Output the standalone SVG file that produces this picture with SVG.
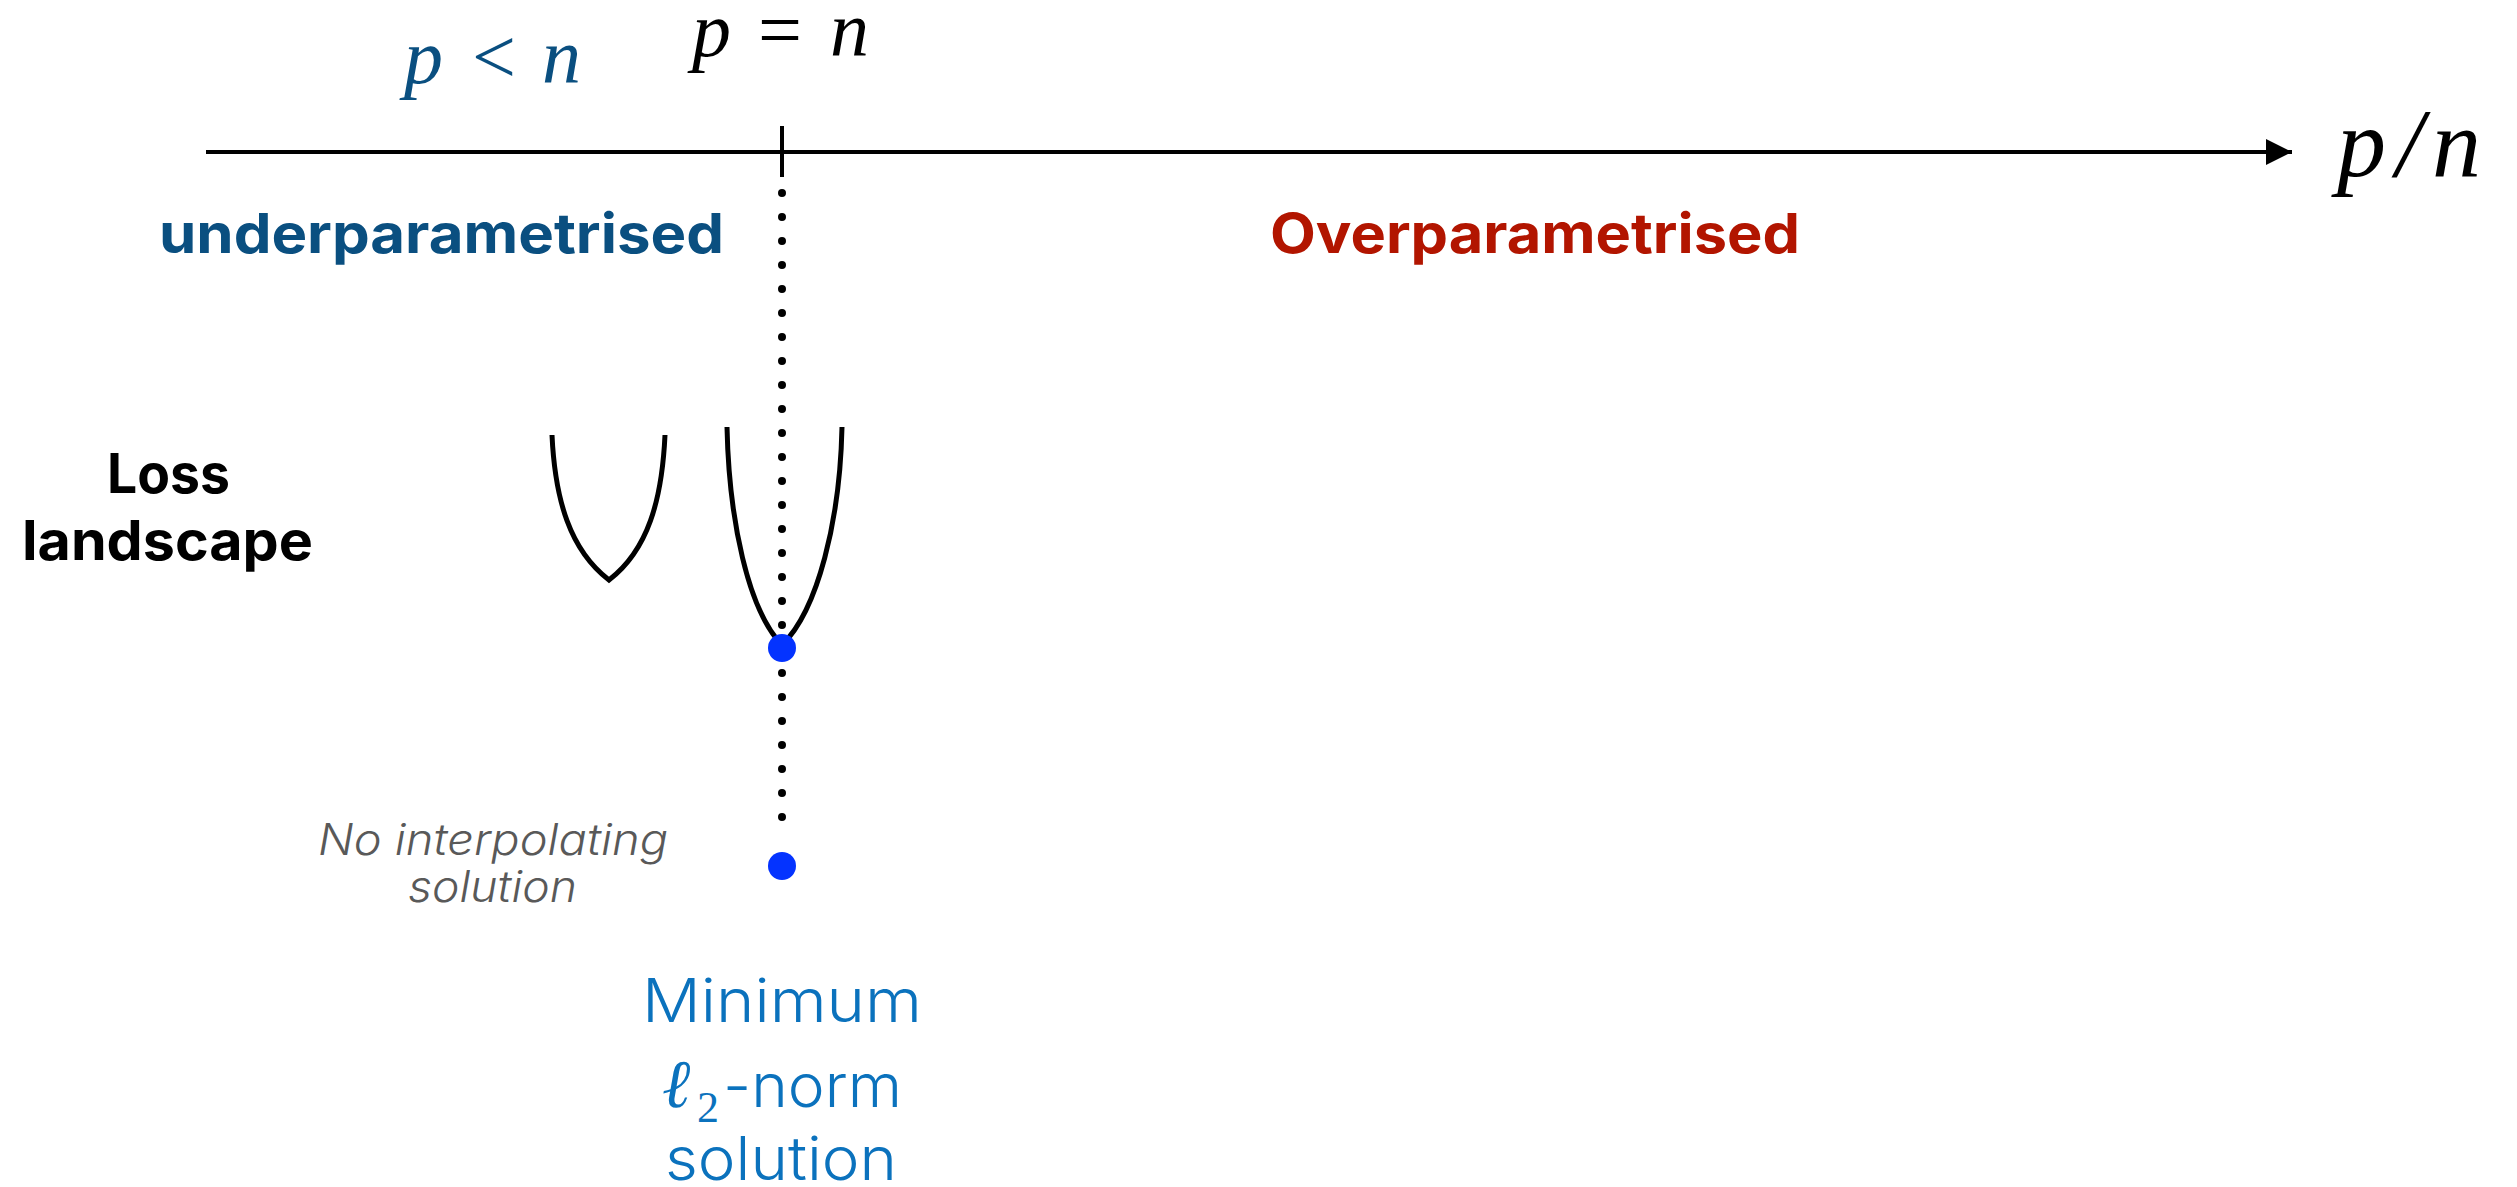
<svg xmlns="http://www.w3.org/2000/svg" width="2517" height="1187" viewBox="0 0 2517 1187">
  <style>
    .math { font-family: "Liberation Serif", "Times New Roman", serif; font-style: italic; }
    .op { font-style: normal; }
    .bold { font-family: "Inter", "Open Sans", "Noto Sans", sans-serif; font-weight: 700; font-size: 55px; }
    .light { font-family: "Inter", "Open Sans", "Noto Sans", sans-serif; font-weight: 300; }
    .curve { fill: none; stroke: #000; stroke-width: 5; stroke-linejoin: miter; }
    .dot { fill: #0433ff; }
  </style>
  <defs>
    <marker id="arrow" markerWidth="7" markerHeight="6.5" refX="6.5" refY="3.25" orient="auto" markerUnits="strokeWidth">
      <path d="M0,0 L6.5,3.25 L0,6.5 Z" fill="#000"/>
    </marker>
  </defs>
  <rect width="2517" height="1187" fill="#fff"/>

  <g id="connectors">
    <line x1="206" y1="152" x2="2292" y2="152" stroke="#000" stroke-width="4" marker-end="url(#arrow)"/>
    <line x1="782" y1="126" x2="782" y2="177" stroke="#000" stroke-width="4"/>
    <line x1="782" y1="193" x2="782" y2="818" stroke="#000" stroke-width="8" stroke-linecap="round" stroke-dasharray="0 24"/>
  </g>

  <g id="label-p-less-n">
    <text class="math" font-size="78" fill="#0a4f80" y="83"><tspan x="404">p</tspan><tspan class="op" x="472">&lt;</tspan><tspan x="542">n</tspan></text>
  </g>
  <g id="label-p-eq-n">
    <text class="math" font-size="78" fill="#000" y="56"><tspan x="692">p</tspan><tspan class="op" x="758">=</tspan><tspan x="830">n</tspan></text>
  </g>
  <g id="label-axis">
    <text class="math" font-size="98" fill="#000" y="176"><tspan x="2337">p</tspan><tspan x="2396">/</tspan><tspan x="2432">n</tspan></text>
  </g>

  <g id="region-under">
    <text class="bold" x="159" y="253" fill="#0a4f80" textLength="565" lengthAdjust="spacingAndGlyphs">underparametrised</text>
  </g>
  <g id="region-over">
    <text class="bold" x="1270" y="253" fill="#b21500" textLength="530" lengthAdjust="spacingAndGlyphs">Overparametrised</text>
  </g>

  <g id="loss-label">
    <text class="bold" x="107" y="493" fill="#000" textLength="123" lengthAdjust="spacingAndGlyphs">Loss</text>
    <text class="bold" x="22" y="560" fill="#000" textLength="291" lengthAdjust="spacingAndGlyphs">landscape</text>
  </g>

  <g id="landscape-under">
    <path class="curve" d="M552,435 C555,500 570,550 609,580 C648,550 662,500 665,435"/>
  </g>
  <g id="landscape-interp">
    <path class="curve" d="M727,427 C729,520 748,610 782,645 C818,610 840,520 842,427"/>
    <circle class="dot" cx="782" cy="648" r="14"/>
  </g>
  <g id="min-norm-point">
    <circle class="dot" cx="782" cy="866" r="14"/>
  </g>

  <g id="no-interp-label">
    <text class="light" font-size="43" font-style="italic" fill="#595959" x="318" y="855" textLength="350" lengthAdjust="spacingAndGlyphs">No interpolating</text>
    <text class="light" font-size="43" font-style="italic" fill="#595959" x="408" y="902" textLength="169" lengthAdjust="spacingAndGlyphs">solution</text>
  </g>

  <g id="min-norm-label">
    <text class="light" font-size="60" fill="#0b72bd" x="642" y="1022" textLength="280" lengthAdjust="spacingAndGlyphs">Minimum</text>
    <text fill="#0b72bd" y="1107"><tspan class="math" font-size="68" x="662">ℓ</tspan><tspan class="math op" font-size="44" x="697" y="1122">2</tspan><tspan class="light" font-size="60" x="723" y="1107" textLength="179" lengthAdjust="spacingAndGlyphs">-norm</tspan></text>
    <text class="light" font-size="60" fill="#0b72bd" x="665" y="1180" textLength="232" lengthAdjust="spacingAndGlyphs">solution</text>
  </g>
</svg>
